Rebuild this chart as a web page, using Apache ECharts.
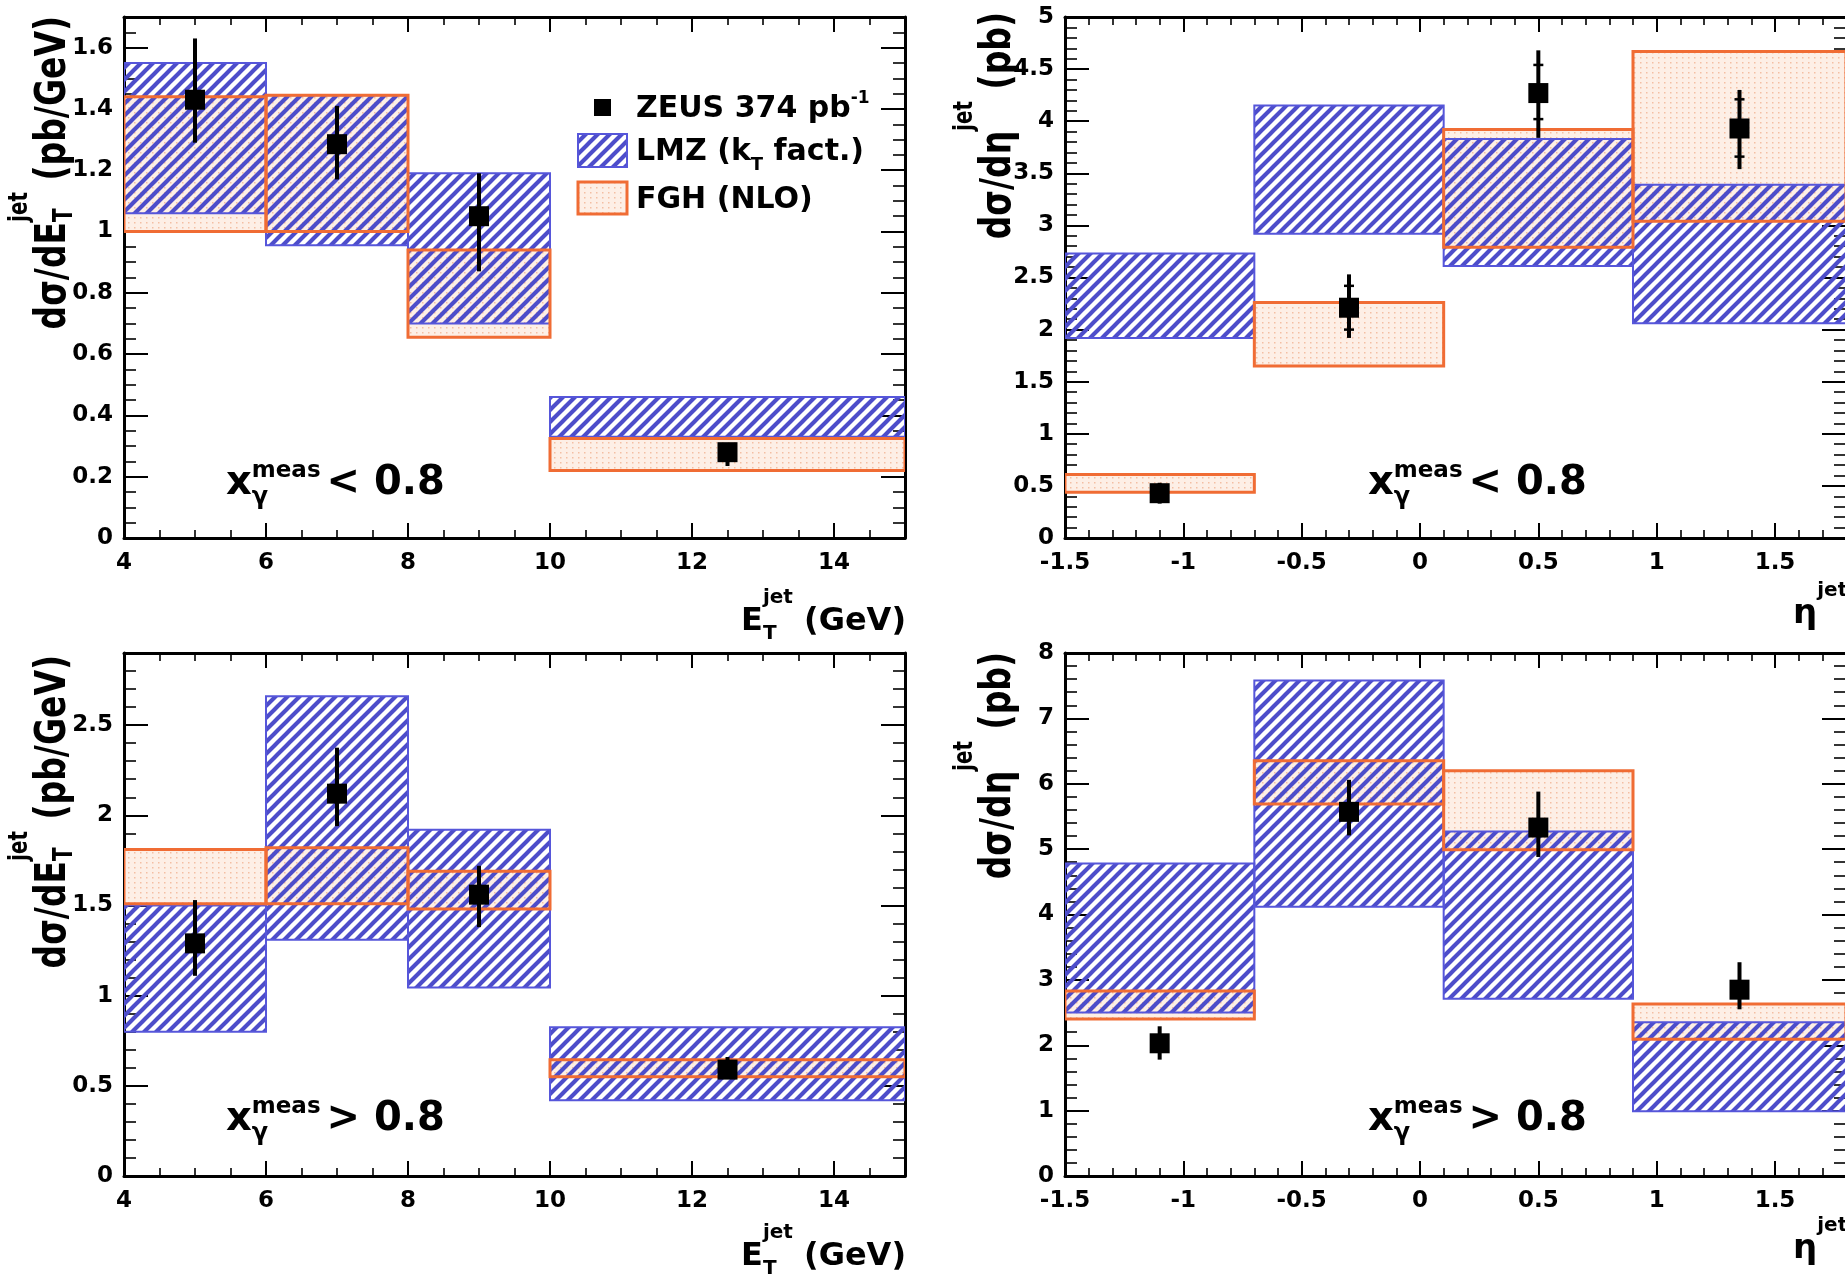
<!DOCTYPE html>
<html><head><meta charset="utf-8">
<script src="https://cdn.jsdelivr.net/npm/echarts@6/dist/echarts.min.js"></script>
<style>html,body{margin:0;padding:0;background:#fff}#chart{width:1845px;height:1275px}</style>
</head><body><div id="chart"></div>
<script>
// ================= DATA =================
const etEdges = [4, 6, 8, 10, 15];
const etCenters = [5, 7, 9, 12.5];
const etaEdges = [-1.5, -0.7, 0.1, 0.9, 1.8];
const etaCenters = [-1.1, -0.3, 0.5, 1.35];

// x_gamma^meas < 0.8, dsigma/dEt
const lowEt_zeus   = [1.43, 1.285, 1.05, 0.28];
const lowEt_zeusLo = [1.29, 1.17, 0.87, 0.235];
const lowEt_zeusHi = [1.63, 1.41, 1.19, 0.31];
const lowEt_lmzLo  = [1.06, 0.955, 0.70, 0.33];
const lowEt_lmzHi  = [1.55, 1.445, 1.19, 0.46];
const lowEt_fghLo  = [1.00, 1.00, 0.655, 0.22];
const lowEt_fghHi  = [1.44, 1.445, 0.94, 0.325];

// x_gamma^meas < 0.8, dsigma/deta
const lowEta_zeus   = [0.43, 2.21, 4.27, 3.93];
const lowEta_zeusLo = [0.33, 1.92, 3.84, 3.54];
const lowEta_zeusHi = [0.53, 2.53, 4.68, 4.30];
const lowEta_statLo = [0.37, 2.00, 4.02, 3.66];
const lowEta_statHi = [0.49, 2.42, 4.54, 4.21];
const lowEta_lmzLo  = [1.92, 2.92, 2.61, 2.06];
const lowEta_lmzHi  = [2.73, 4.15, 3.83, 3.39];
const lowEta_fghLo  = [0.44, 1.65, 2.79, 3.04];
const lowEta_fghHi  = [0.61, 2.26, 3.92, 4.67];

// x_gamma^meas > 0.8, dsigma/dEt
const highEt_zeus   = [1.29, 2.12, 1.56, 0.59];
const highEt_zeusLo = [1.11, 1.94, 1.38, 0.54];
const highEt_zeusHi = [1.53, 2.375, 1.72, 0.66];
const highEt_lmzLo  = [0.80, 1.31, 1.045, 0.42];
const highEt_lmzHi  = [1.50, 2.66, 1.92, 0.825];
const highEt_fghLo  = [1.51, 1.51, 1.48, 0.55];
const highEt_fghHi  = [1.81, 1.82, 1.69, 0.645];

// x_gamma^meas > 0.8, dsigma/deta
const highEta_zeus   = [2.03, 5.57, 5.33, 2.85];
const highEta_zeusLo = [1.78, 5.21, 4.88, 2.55];
const highEta_zeusHi = [2.29, 6.06, 5.88, 3.27];
const highEta_lmzLo  = [2.50, 4.12, 2.71, 0.99];
const highEta_lmzHi  = [4.78, 7.58, 5.27, 2.35];
const highEta_fghLo  = [2.40, 5.69, 4.99, 2.09];
const highEta_fghHi  = [2.83, 6.35, 6.20, 2.63];

// ================= PANELS =================
const panels = [
  {edges: etEdges, centers: etCenters, zeus: lowEt_zeus, zLo: lowEt_zeusLo, zHi: lowEt_zeusHi, sLo: null, sHi: null,
   lmzLo: lowEt_lmzLo, lmzHi: lowEt_lmzHi, fghLo: lowEt_fghLo, fghHi: lowEt_fghHi,
   xMin: 4, xMax: 15, xInt: 2, xMinor: 4, yMax: 1.7, yInt: 0.2, yMinor: 4, yMaxLabel: false},
  {edges: etaEdges, centers: etaCenters, zeus: lowEta_zeus, zLo: lowEta_zeusLo, zHi: lowEta_zeusHi, sLo: lowEta_statLo, sHi: lowEta_statHi,
   lmzLo: lowEta_lmzLo, lmzHi: lowEta_lmzHi, fghLo: lowEta_fghLo, fghHi: lowEta_fghHi,
   xMin: -1.5, xMax: 1.8, xInt: 0.5, xMinor: 5, yMax: 5, yInt: 0.5, yMinor: 5, yMaxLabel: true},
  {edges: etEdges, centers: etCenters, zeus: highEt_zeus, zLo: highEt_zeusLo, zHi: highEt_zeusHi, sLo: null, sHi: null,
   lmzLo: highEt_lmzLo, lmzHi: highEt_lmzHi, fghLo: highEt_fghLo, fghHi: highEt_fghHi,
   xMin: 4, xMax: 15, xInt: 2, xMinor: 4, yMax: 2.9, yInt: 0.5, yMinor: 5, yMaxLabel: false},
  {edges: etaEdges, centers: etaCenters, zeus: highEta_zeus, zLo: highEta_zeusLo, zHi: highEta_zeusHi, sLo: null, sHi: null,
   lmzLo: highEta_lmzLo, lmzHi: highEta_lmzHi, fghLo: highEta_fghLo, fghHi: highEta_fghHi,
   xMin: -1.5, xMax: 1.8, xInt: 0.5, xMinor: 5, yMax: 8, yInt: 1, yMinor: 5, yMaxLabel: true}
];

const layout = [
  {left: 124, top: 17, width: 781, height: 521},
  {left: 1065, top: 17, width: 781, height: 521},
  {left: 124, top: 653, width: 781, height: 523},
  {left: 1065, top: 653, width: 781, height: 523}
];

// ================= STYLE HELPERS =================
const FONT = '"DejaVu Sans", "Liberation Sans", sans-serif';
const BLUE = '#4d4dca';
const BLUE_EDGE = '#5656da';
const ORANGE = '#f06c34';

function makeHatch() {
  const p = 12, c = document.createElement('canvas');
  c.width = p; c.height = p;
  const g = c.getContext('2d');
  g.strokeStyle = BLUE; g.lineWidth = 4.1;
  g.beginPath();
  g.moveTo(-p, p); g.lineTo(p, -p);
  g.moveTo(-p, 2 * p); g.lineTo(2 * p, -p);
  g.moveTo(0, 2 * p); g.lineTo(2 * p, 0);
  g.stroke();
  return c;
}
function makeDots() {
  const c = document.createElement('canvas');
  c.width = 6; c.height = 5;
  const g = c.getContext('2d');
  g.fillStyle = '#fdefe6'; g.fillRect(0, 0, 6, 5);
  g.fillStyle = '#f4bfa3'; g.fillRect(2, 2, 1.5, 1.5);
  return c;
}
const hatchPattern = {image: makeHatch(), repeat: 'repeat'};
const dotPattern = {image: makeDots(), repeat: 'repeat'};

const mctx = document.createElement('canvas').getContext('2d');
function tw(t, s) { mctx.font = 'bold ' + s + 'px "DejaVu Sans"'; return mctx.measureText(t).width; }
function mathText(parts, o) {
  let x = 0, pend = 0; const kids = [];
  parts.forEach(p => {
    const s = p.s, w = tw(p.t, s);
    x += p.gap || 0;
    kids.push({type: 'text', x: x, y: (p.dy || 0) - 0.3 * s,
      style: {text: p.t, fontSize: s, fontWeight: 'bold', fontFamily: FONT, fill: '#000', align: 'left', verticalAlign: 'middle'}});
    if (p.keep) { pend = w; } else { x += Math.max(w, pend); pend = 0; }
  });
  if (o.align === 'right') kids.forEach(k => { k.x -= x; });
  return {type: 'group', x: o.x, y: o.y, rotation: o.rot || 0, scaleX: o.sx || 1, scaleY: o.sy || 1, silent: true, children: kids};
}

function rectRender(style) {
  return function (params, api) {
    const a = api.coord([api.value(0), api.value(3)]);
    const b = api.coord([api.value(1), api.value(2)]);
    return {type: 'rect', shape: {x: a[0], y: a[1], width: b[0] - a[0], height: b[1] - a[1]}, style: Object.assign({}, style)};
  };
}
function pointRender(params, api) {
  const x = api.value(0);
  const c = api.coord([x, api.value(1)]);
  const lo = api.coord([x, api.value(2)]);
  const hi = api.coord([x, api.value(3)]);
  return {type: 'group', children: [
    {type: 'line', shape: {x1: c[0], y1: lo[1], x2: c[0], y2: hi[1]}, style: {stroke: '#000', lineWidth: 4}},
    {type: 'rect', shape: {x: c[0] - 10, y: c[1] - 10, width: 20, height: 20}, style: {fill: '#000'}}
  ]};
}
function statRender(params, api) {
  const x = api.value(0);
  const a = api.coord([x, api.value(1)]);
  const b = api.coord([x, api.value(2)]);
  return {type: 'group', children: [
    {type: 'line', shape: {x1: a[0] - 5, y1: a[1], x2: a[0] + 5, y2: a[1]}, style: {stroke: '#000', lineWidth: 2.5}},
    {type: 'line', shape: {x1: b[0] - 5, y1: b[1], x2: b[0] + 5, y2: b[1]}, style: {stroke: '#000', lineWidth: 2.5}}
  ]};
}

// ================= OPTION =================
const option = {animation: false, backgroundColor: '#fff', grid: [], xAxis: [], yAxis: [], series: [], graphic: []};
const axisLine = {show: true, onZero: false, lineStyle: {color: '#000', width: 3}};
const labelStyle = {color: '#000', fontFamily: FONT, fontWeight: 'bold', fontSize: 23};

panels.forEach((P, i) => {
  const L = layout[i];
  option.grid.push({left: L.left, top: L.top, width: L.width, height: L.height, show: false, outerBoundsMode: 'none', containLabel: false});
  ['bottom', 'top'].forEach(pos => {
    option.xAxis.push({type: 'value', gridIndex: i, position: pos, min: P.xMin, max: P.xMax, interval: P.xInt,
      axisLine: axisLine,
      axisTick: {show: true, inside: true, length: 15, lineStyle: {color: '#000', width: 2}},
      minorTick: {show: true, splitNumber: P.xMinor, length: 8, lineStyle: {color: '#000', width: 1.6}},
      splitLine: {show: false}, minorSplitLine: {show: false},
      axisLabel: Object.assign({show: pos === 'bottom', margin: 14, showMaxLabel: false, showMinLabel: true}, labelStyle)});
  });
  ['left', 'right'].forEach(pos => {
    option.yAxis.push({type: 'value', gridIndex: i, position: pos, min: 0, max: P.yMax, interval: P.yInt,
      axisLine: axisLine,
      axisTick: {show: true, inside: true, length: 24, lineStyle: {color: '#000', width: 2}},
      minorTick: {show: true, splitNumber: P.yMinor, length: 12, lineStyle: {color: '#000', width: 1.6}},
      splitLine: {show: false}, minorSplitLine: {show: false},
      axisLabel: Object.assign({show: pos === 'left', margin: 11, showMaxLabel: P.yMaxLabel, showMinLabel: true}, labelStyle)});
  });
  const xi = 2 * i, yi = 2 * i;
  const boxes = (lo, hi) => lo.map((v, k) => [P.edges[k], P.edges[k + 1], v, hi[k]]);
  const base = {type: 'custom', xAxisIndex: xi, yAxisIndex: yi, clip: true, silent: true};
  option.series.push(Object.assign({}, base, {z: 2, data: boxes(P.fghLo, P.fghHi), renderItem: rectRender({fill: dotPattern})}));
  option.series.push(Object.assign({}, base, {z: 3, data: boxes(P.lmzLo, P.lmzHi), renderItem: rectRender({fill: hatchPattern})}));
  option.series.push(Object.assign({}, base, {z: 4, data: boxes(P.lmzLo, P.lmzHi), renderItem: rectRender({fill: 'none', stroke: BLUE_EDGE, lineWidth: 2})}));
  option.series.push(Object.assign({}, base, {z: 5, data: boxes(P.fghLo, P.fghHi), renderItem: rectRender({fill: 'none', stroke: ORANGE, lineWidth: 3})}));
  option.series.push(Object.assign({}, base, {z: 6, data: P.centers.map((c, k) => [c, P.zeus[k], P.zLo[k], P.zHi[k]]), renderItem: pointRender}));
  if (P.sLo) {
    option.series.push(Object.assign({}, base, {z: 7, data: P.centers.map((c, k) => [c, P.sLo[k], P.sHi[k]]), renderItem: statRender}));
  }
});

// ---- titles ----
const G = option.graphic;
// x titles
[631, 1266].forEach(b => {
  G.push(mathText([{t: 'E', s: 32}, {t: 'T', s: 20, dy: 9, keep: true}, {t: 'jet', s: 20, dy: -27}, {t: ' (GeV)', s: 32}], {x: 906, y: b, align: 'right'}));
});
[624, 1259].forEach(b => {
  G.push(mathText([{t: 'η', s: 34}, {t: 'jet', s: 20, dy: -27}], {x: 1793, y: b}));
});
// y titles (rotated)
[[67, 16], [67, 655]].forEach(([bx, ey]) => {
  G.push(mathText([{t: 'dσ/dE', s: 33}, {t: 'T', s: 20, dy: 5, keep: true}, {t: 'jet', s: 20, dy: -30}, {t: ' (pb/GeV)', s: 33}],
    {x: bx, y: ey, align: 'right', rot: Math.PI / 2, sy: 1.3}));
});
[[1012, 12], [1012, 652]].forEach(([bx, ey]) => {
  G.push(mathText([{t: 'dσ/dη', s: 33}, {t: 'jet', s: 20, dy: -30}, {t: ' (pb)', s: 33}],
    {x: bx, y: ey, align: 'right', rot: Math.PI / 2, sy: 1.3}));
});
// x_gamma annotations
[[226, 496, '< 0.8'], [1368, 496, '< 0.8'], [226, 1132, '> 0.8'], [1368, 1132, '> 0.8']].forEach(([x, y, s]) => {
  G.push(mathText([{t: 'x', s: 40}, {t: 'γ', s: 24, dy: 9, keep: true}, {t: 'meas', s: 23, dy: -18}, {t: s, s: 40, gap: 6}], {x: x, y: y}));
});
// legend
G.push({type: 'rect', silent: true, shape: {x: 594, y: 99, width: 17, height: 17}, style: {fill: '#000'}});
G.push({type: 'rect', silent: true, shape: {x: 578, y: 134, width: 49, height: 33}, style: {fill: hatchPattern, stroke: BLUE_EDGE, lineWidth: 2}});
G.push({type: 'rect', silent: true, shape: {x: 578, y: 182, width: 49, height: 32}, style: {fill: dotPattern, stroke: ORANGE, lineWidth: 3}});
G.push(mathText([{t: 'ZEUS 374 pb', s: 30}, {t: '-1', s: 17, dy: -14}], {x: 636, y: 118}));
G.push(mathText([{t: 'LMZ (k', s: 30}, {t: 'T', s: 18, dy: 10}, {t: ' fact.)', s: 30}], {x: 636, y: 161}));
G.push(mathText([{t: 'FGH (NLO)', s: 30}], {x: 636, y: 209}));

const chart = echarts.init(document.getElementById('chart'), null, {renderer: 'canvas'});
chart.setOption(option);
</script>
</body></html>
